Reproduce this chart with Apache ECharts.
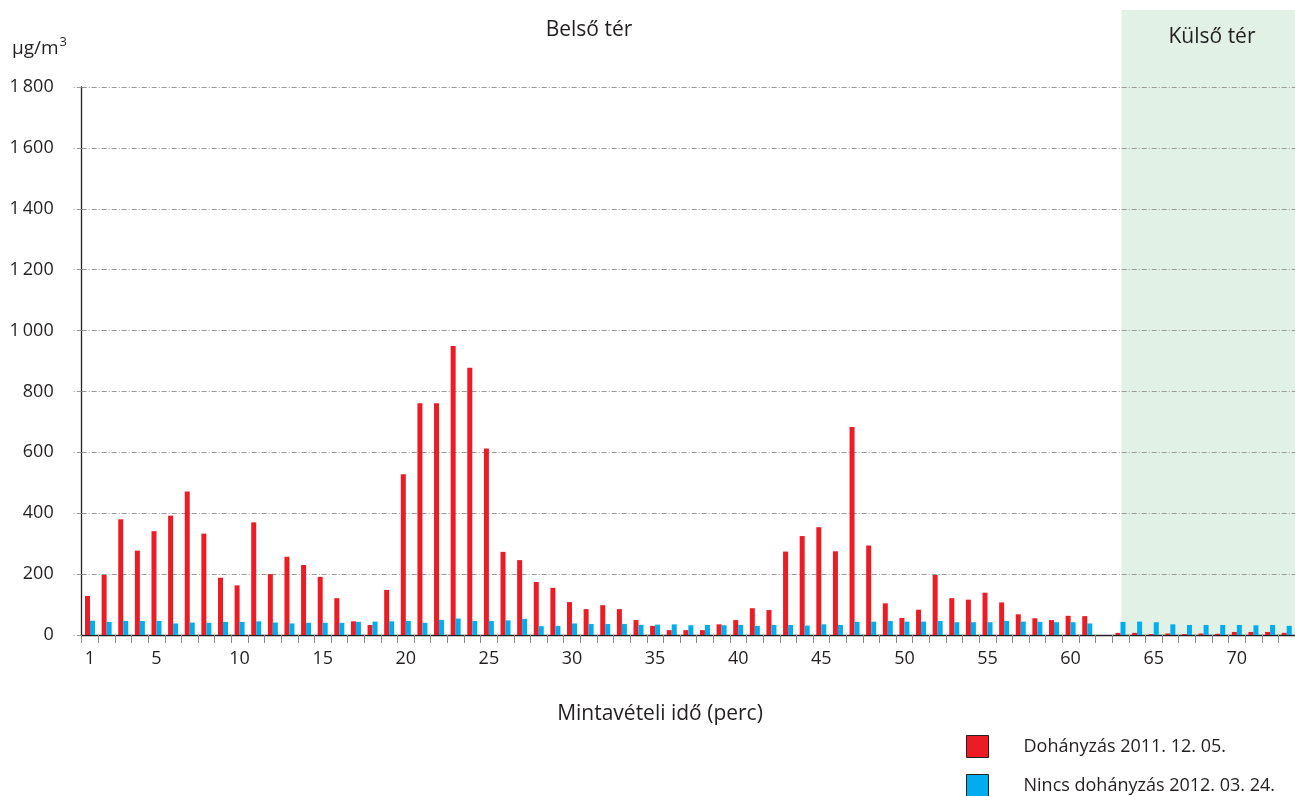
<!DOCTYPE html>
<html>
<head>
<meta charset="utf-8">
<script src="https://cdn.jsdelivr.net/npm/echarts@6/dist/echarts.min.js"></script>
<style>
html,body{margin:0;padding:0;background:#fff;}
#main{width:1295px;height:796px;}
</style>
</head>
<body>
<div id="main"></div>
<script>
// Data
const categories = Array.from({length: 73}, (_, i) => String(i + 1));
const smokingName = 'Dohányzás 2011. 12. 05.';
const noSmokingName = 'Nincs dohányzás 2012. 03. 24.';
const smoking = [128,197,380,277,341,392,471,333,188,163,
                 370,200,257,230,191,121,45,33,148,528,
                 761,761,949,878,613,273,246,174,155,108,
                 85,98,85,49,30,16,16,16,35,49,
                 88,82,274,325,354,275,683,294,104,56,
                 83,197,121,116,139,107,68,55,49,63,
                 62,null,7,7,3,5,3,5,4,10,
                 10,10,7];
const noSmoking = [47,43,46,46,46,38,41,40,43,43,
                   45,41,38,40,40,40,43,44,45,46,
                   40,49,54,46,46,48,53,29,30,38,
                   36,36,36,33,34,35,32,33,32,33,
                   30,33,33,31,35,33,43,44,46,44,
                   44,46,42,42,42,46,44,43,42,42,
                   38,null,43,44,42,35,33,33,33,33,
                   32,33,30];
const yTicks = [0,200,400,600,800,1000,1200,1400,1600,1800];
const xLabelValues = ['1','5','10','15','20','25','30','35','40','45','50','55','60','65','70'];
const outdoorStart = '63';

const FONT = '"Open Sans", "Noto Sans", sans-serif';
const TXT = '#231f20';

const chart = echarts.init(document.getElementById('main'), null, {renderer: 'canvas'});

function legendBlock(name, top) {
  return {
    orient: 'vertical',
    left: 961, top: top,
    padding: 5,
    itemWidth: 22, itemHeight: 22,
    icon: 'rect',
    itemStyle: {borderColor: '#222', borderWidth: 1},
    textStyle: {fontFamily: FONT, fontSize: 18, color: TXT, padding: [0, 0, 0, 30]},
    selectedMode: false,
    data: [name]
  };
}

const option = {
  animation: false,
  backgroundColor: '#ffffff',
  textStyle: {fontFamily: FONT, color: TXT},
  grid: {left: 81.7, top: 87, width: 1217, height: 548, containLabel: false},
  legend: [legendBlock(smokingName, 730), legendBlock(noSmokingName, 769)],
  xAxis: {
    type: 'category',
    data: categories,
    boundaryGap: true,
    axisLine: {lineStyle: {color: '#231f20', width: 1.3}},
    axisTick: {show: true, interval: 0, length: 8, lineStyle: {color: '#888'}},
    axisLabel: {
      interval: function (idx, val) { return xLabelValues.indexOf(val) >= 0; },
      fontFamily: FONT, fontSize: 18, color: TXT, margin: 15
    },
    splitLine: {show: false}
  },
  yAxis: {
    type: 'value',
    min: yTicks[0], max: yTicks[yTicks.length - 1], interval: 200,
    axisLine: {show: true, lineStyle: {color: '#231f20', width: 1.3}},
    axisTick: {show: true, length: 9, lineStyle: {color: '#999', type: [5, 2, 1, 2]}},
    axisLabel: {
      fontFamily: FONT, fontSize: 18, color: TXT, margin: 28,
      formatter: function (v) {
        return v >= 1000 ? Math.floor(v / 1000) + '\u2009' + String(v % 1000).padStart(3, '0') : String(v);
      }
    },
    splitLine: {show: true, lineStyle: {color: '#999', width: 1, type: [5, 2, 1, 2]}}
  },
  series: [
    {
      name: smokingName, type: 'bar', data: smoking,
      barWidth: 5, barGap: '0%',
      itemStyle: {color: '#ed1c24'}
    },
    {
      name: noSmokingName, type: 'bar', data: noSmoking,
      barWidth: 5, barGap: '0%',
      itemStyle: {color: '#00aeef'}
    }
  ]
};
chart.setOption(option);

// Background annotations positioned from the axis scales
const x63 = chart.convertToPixel({xAxisIndex: 0}, outdoorStart);
const y0 = chart.convertToPixel({yAxisIndex: 0}, 0);
const xEnd = 1295;
const shadeX = x63 + 1;

const unitFont = '19px ' + FONT;
const ctx = document.createElement('canvas').getContext('2d');
ctx.font = unitFont;
const unitW = ctx.measureText('μg/m').width;

chart.setOption({
  graphic: [
    {
      type: 'rect', z: -10, silent: true,
      shape: {x: shadeX, y: 10, width: xEnd - shadeX, height: y0 - 10},
      style: {fill: '#e1f1e5'}
    },
    {
      type: 'text', z: 10,
      style: {x: 589, y: 30, text: 'Belső tér', textAlign: 'center', textVerticalAlign: 'middle',
              font: '21px ' + FONT, fill: TXT}
    },
    {
      type: 'text', z: 10,
      style: {x: 1212, y: 37, text: 'Külső tér', textAlign: 'center', textVerticalAlign: 'middle',
              font: '21px ' + FONT, fill: TXT}
    },
    {
      type: 'text', z: 10,
      style: {x: 12, y: 49, text: 'μg/m', textAlign: 'left', textVerticalAlign: 'middle',
              font: unitFont, fill: TXT}
    },
    {
      type: 'text', z: 10,
      style: {x: 12 + unitW + 1, y: 42, text: '3', textAlign: 'left', textVerticalAlign: 'middle',
              font: '13px ' + FONT, fill: TXT}
    },
    {
      type: 'text', z: 10,
      style: {x: 660, y: 714, text: 'Mintavételi idő (perc)', textAlign: 'center', textVerticalAlign: 'middle',
              font: '21px ' + FONT, fill: TXT}
    }
  ]
});
</script>
</body>
</html>
